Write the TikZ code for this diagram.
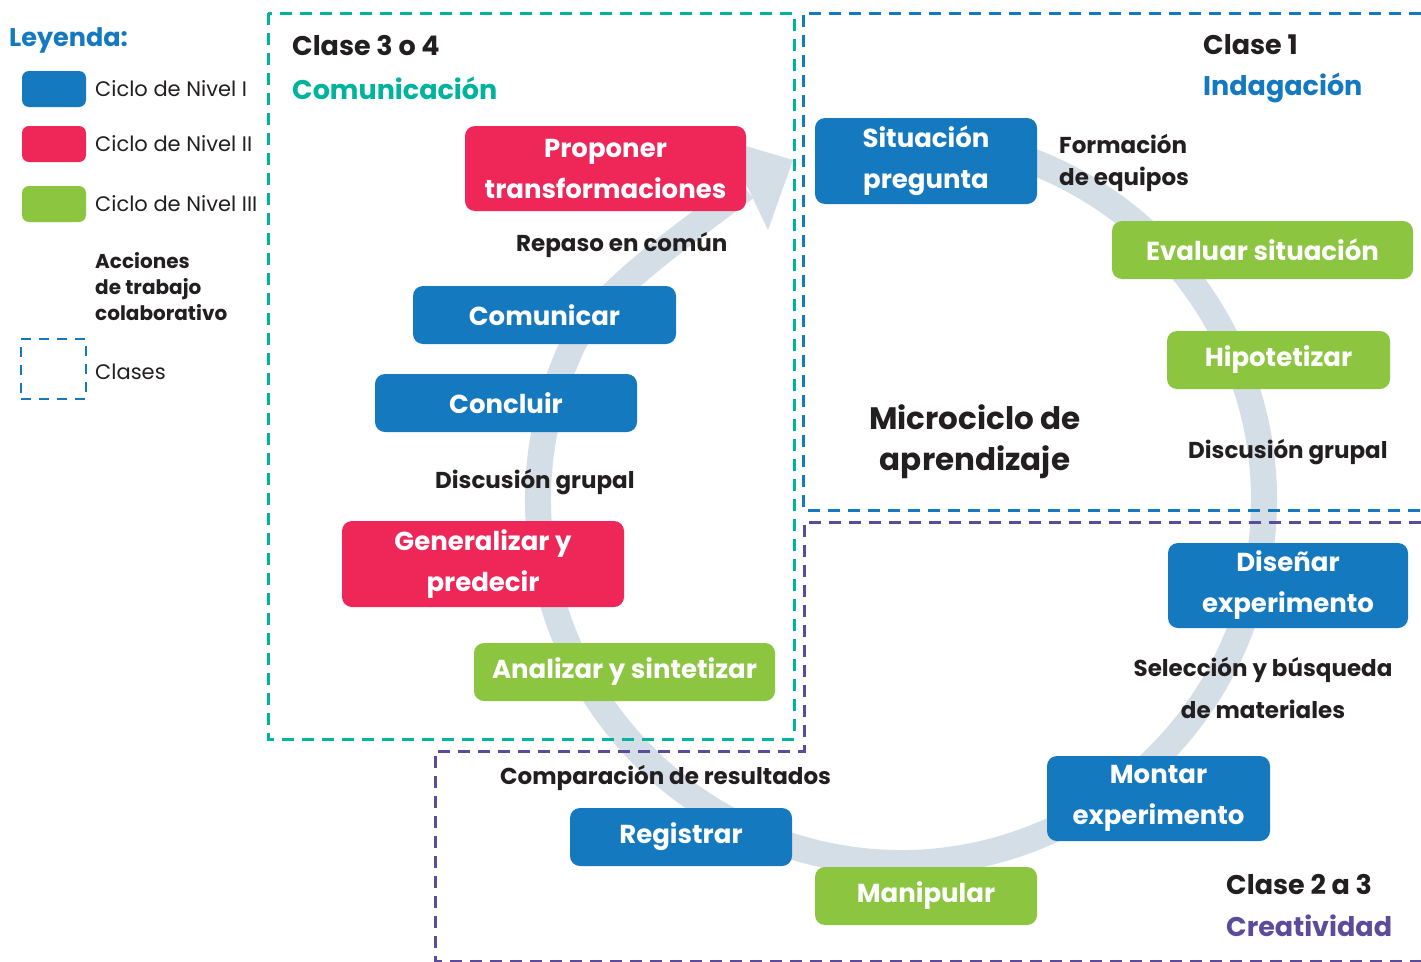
\documentclass[tikz,border=0pt]{standalone}
\usepackage{fontspec}
\setmainfont{Poppins}
\definecolor{cblue}{HTML}{1479BF}
\definecolor{cred}{HTML}{EE2758}
\definecolor{cgreen}{HTML}{8CC53F}
\definecolor{cteal}{HTML}{00B39C}
\definecolor{cpurple}{HTML}{5B4B9B}
\definecolor{cring}{HTML}{D3DEE7}
\definecolor{ctext}{HTML}{231F20}
\begin{document}
\begin{tikzpicture}[x=1pt,y=-1pt,
  bx/.style={rounded corners=10pt, text=white, align=center, inner sep=0pt,
    font=\fontsize{26}{41}\selectfont\bfseries},
  bblue/.style={bx, fill=cblue},
  bred/.style={bx, fill=cred},
  bgreen/.style={bx, fill=cgreen},
  lbl/.style={text=ctext, inner sep=0pt, font=\fontsize{23}{32}\selectfont\bfseries},
  head/.style={inner sep=0pt, font=\fontsize{27}{30}\selectfont\bfseries},
  leg/.style={text=ctext, inner sep=0pt, anchor=west, font=\fontsize{21}{26}\selectfont},
  dashbox/.style={line width=3pt, dash pattern=on 12pt off 8pt},
  band/.style={draw=cring, line width=26pt}
]
\useasboundingbox (0,0) rectangle (1421,961);
\fill[white] (0,0) rectangle (1421,961);

% ring arrow
\draw[band] (964,142.5) arc[start angle=80, end angle=-205, radius=363pt]
   .. controls (597,293) and (690,231) .. (745,188);
\fill[cring] (725,140) -- (793,160) -- (768,230) -- cycle;

% class frames
\draw[dashbox, cteal] (268,13) rectangle (794,739);
\draw[dashbox, cblue] (1421,13) -- (803,13) -- (803,510) -- (1421,510);
\draw[dashbox, cpurple] (1421,522) -- (804,522) -- (804,751) -- (435,751) -- (435,961.5) -- (1421,961.5);

% legend
\node[inner sep=0pt, anchor=west, text=cblue, font=\fontsize{25.5}{30}\selectfont\bfseries] (leyenda) at (9,40) {Leyenda:};
\node[fill=cblue, rounded corners=7pt, minimum width=64pt, minimum height=36pt, inner sep=0pt] (l1) at (54,89) {};
\node[fill=cred, rounded corners=7pt, minimum width=64pt, minimum height=36pt, inner sep=0pt] (l2) at (54,144) {};
\node[fill=cgreen, rounded corners=7pt, minimum width=64pt, minimum height=36pt, inner sep=0pt] (l3) at (54,204) {};
\node[leg] (t1) at (95,89) {Ciclo de Nivel I};
\node[leg] (t2) at (95,144) {Ciclo de Nivel II};
\node[leg] (t3) at (95,204) {Ciclo de Nivel III};
\node[leg, align=left, font=\fontsize{20}{26}\selectfont\bfseries] (acc) at (95,287) {Acciones\\de trabajo\\colaborativo};
\node[draw=cblue, line width=2.5pt, dash pattern=on 10pt off 8pt, minimum width=65pt, minimum height=60pt, inner sep=0pt] (l4) at (53.5,369) {};
\node[leg] (t4) at (95,372) {Clases};

% headings
\node[head, anchor=west, text=ctext] (c34) at (292,46) {Clase 3 o 4};
\node[head, anchor=west, text=cteal] (com) at (292,88) {Comunicación};
\node[head, anchor=west, text=ctext] (c1) at (1203,45) {Clase 1};
\node[head, anchor=west, text=cblue] (ind) at (1203,88) {Indagación};
\node[head, anchor=west, text=ctext] (c23) at (1226,885) {Clase 2 a 3};
\node[head, anchor=west, text=cpurple] (cre) at (1226,926) {Creatividad};
\node[text=ctext, inner sep=0pt, align=center, font=\fontsize{31}{41}\selectfont\bfseries] (micro) at (975,442) {Microciclo de\\aprendizaje};

% collaborative actions
\node[lbl, anchor=west, align=left] (form) at (1059,163) {Formación\\de equipos};
\node[lbl, anchor=west] (disc1) at (1188,452) {Discusión grupal};
\node[lbl, align=center, font=\fontsize{23}{42}\selectfont\bfseries] (sel) at (1263,688) {Selección y búsqueda\\de materiales};
\node[lbl, anchor=west] (compa) at (500,778) {Comparación de resultados};
\node[lbl, anchor=west] (disc2) at (435,482) {Discusión grupal};
\node[lbl, anchor=west] (rep) at (516,245) {Repaso en común};

% cycle steps
\node[bred, minimum width=281pt, minimum height=85pt] (prop) at (605.5,168.5) {Proponer\\transformaciones};
\node[bblue, minimum width=263pt, minimum height=58pt] (comu) at (544.5,315) {Comunicar};
\node[bblue, minimum width=262pt, minimum height=58pt] (concl) at (506,403) {Concluir};
\node[bred, minimum width=282pt, minimum height=86pt] (gen) at (483,564) {Generalizar y\\predecir};
\node[bgreen, minimum width=301pt, minimum height=58pt] (anal) at (624.5,672) {Analizar y sintetizar};
\node[bblue, minimum width=222pt, minimum height=86pt] (sit) at (926,161) {Situación\\pregunta};
\node[bgreen, minimum width=301pt, minimum height=58pt] (eval) at (1262.5,250) {Evaluar situación};
\node[bgreen, minimum width=223pt, minimum height=58pt] (hipo) at (1278.5,360) {Hipotetizar};
\node[bblue, minimum width=240pt, minimum height=85pt] (dis) at (1288,585.5) {Diseñar\\experimento};
\node[bblue, minimum width=223pt, minimum height=85pt] (mont) at (1158.5,798.5) {Montar\\experimento};
\node[bgreen, minimum width=222pt, minimum height=58pt] (manip) at (926,896) {Manipular};
\node[bblue, minimum width=222pt, minimum height=58pt] (reg) at (681,837) {Registrar};
\end{tikzpicture}
\end{document}
